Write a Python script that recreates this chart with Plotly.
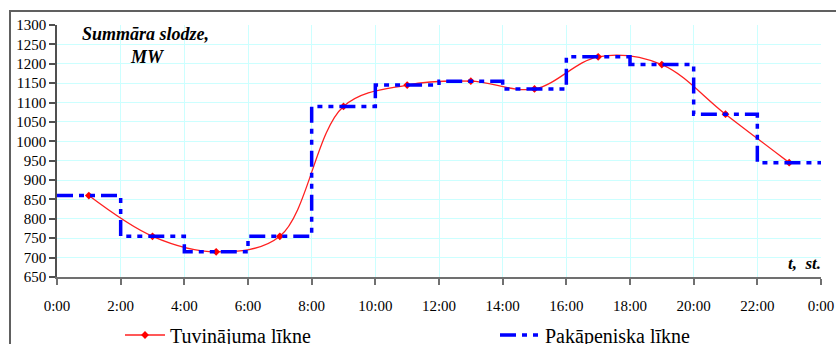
import plotly.graph_objects as go

# Data
hours_mid = [1, 3, 5, 7, 9, 11, 13, 15, 17, 19, 21, 23]
load_mw = [860, 755, 715, 755, 1090, 1145, 1155, 1135, 1218, 1198, 1070, 945]
step_hours = [0, 2, 4, 6, 8, 10, 12, 14, 16, 18, 20, 22, 24]
step_mw = [860, 755, 715, 755, 1090, 1145, 1155, 1135, 1218, 1198, 1070, 945, 945]
x_tickvals = [0, 2, 4, 6, 8, 10, 12, 14, 16, 18, 20, 22, 24]
x_ticktext = ["0:00", "2:00", "4:00", "6:00", "8:00", "10:00", "12:00", "14:00",
              "16:00", "18:00", "20:00", "22:00", "0:00"]
y_tickvals = list(range(650, 1301, 50))

FONT = "Liberation Serif, Times New Roman, DejaVu Serif, serif"
W, H = 836, 344
L, R, T, B = 57, 15, 25, 67
pw, ph = W - L - R, H - T - B

fig = go.Figure()
fig.add_trace(go.Scatter(
    x=hours_mid, y=load_mw, mode="lines+markers", name="Tuvinājuma līkne",
    line=dict(color="#ff2020", width=1.3, shape="spline", smoothing=1.0),
    marker=dict(symbol="diamond", size=6, color="#ff0000"), legend="legend",
))
fig.add_trace(go.Scatter(
    x=step_hours, y=step_mw, mode="lines", name="Pakāpeniska līkne",
    line=dict(color="#0000ff", width=3.5, shape="hv", dash="16px,6px,5px,6px,5px,6px"),
    legend="legend2",
))

leg_common = dict(orientation="h", xref="container", yref="container",
                  xanchor="left", y=(H - 335) / H, yanchor="middle",
                  font=dict(family=FONT, size=20), bgcolor="rgba(0,0,0,0)",
                  itemwidth=40)

fig.update_layout(
    width=W, height=H,
    margin=dict(l=L, r=R, t=T, b=B, autoexpand=False),
    paper_bgcolor="white", plot_bgcolor="white",
    font=dict(family=FONT, color="black", size=15),
    showlegend=True,
    legend=dict(x=120 / W, **leg_common),
    legend2=dict(x=495 / W, **leg_common),
    xaxis=dict(range=[0, 24], tickvals=x_tickvals, ticktext=x_ticktext,
               showgrid=True, gridcolor="#ccffff", gridwidth=1,
               showline=True, linecolor="#707070", linewidth=2,
               ticks="outside", ticklen=6, tickcolor="#707070", tickwidth=1.5,
               tickfont=dict(family=FONT, size=15), zeroline=False,
               ticklabelstandoff=8),
    yaxis=dict(range=[650, 1300], tickvals=y_tickvals,
               showgrid=True, gridcolor="#ccffff", gridwidth=1,
               showline=True, linecolor="#505050", linewidth=1.5,
               ticks="outside", ticklen=6, tickcolor="#505050", tickwidth=1.5,
               tickfont=dict(family=FONT, size=15), zeroline=False),
)

# Outer frame
fig.add_shape(type="rect", xref="paper", yref="paper",
              x0=(10 - L) / pw, x1=(W + 20 - L) / pw,
              y0=(277 - (H + 20)) / ph, y1=(277 - 11) / ph,
              line=dict(color="#606060", width=2), fillcolor="rgba(0,0,0,0)",
              layer="below")

fig.add_annotation(xref="paper", yref="paper", x=(145 - L) / pw, y=(277 - 34) / ph,
                   text="<b><i>Summāra slodze,</i></b>", showarrow=False,
                   font=dict(family=FONT, size=18), xanchor="center", yanchor="middle")
fig.add_annotation(xref="paper", yref="paper", x=(147 - L) / pw, y=(277 - 57) / ph,
                   text="<b><i>MW</i></b>", showarrow=False,
                   font=dict(family=FONT, size=18), xanchor="center", yanchor="middle")
fig.add_annotation(xref="paper", yref="paper", x=(823 - L) / pw, y=(277 - 263) / ph,
                   text="<b><i>t,  st.</i></b>", showarrow=False,
                   font=dict(family=FONT, size=17), xanchor="right", yanchor="middle")

fig.write_html("out.html")
